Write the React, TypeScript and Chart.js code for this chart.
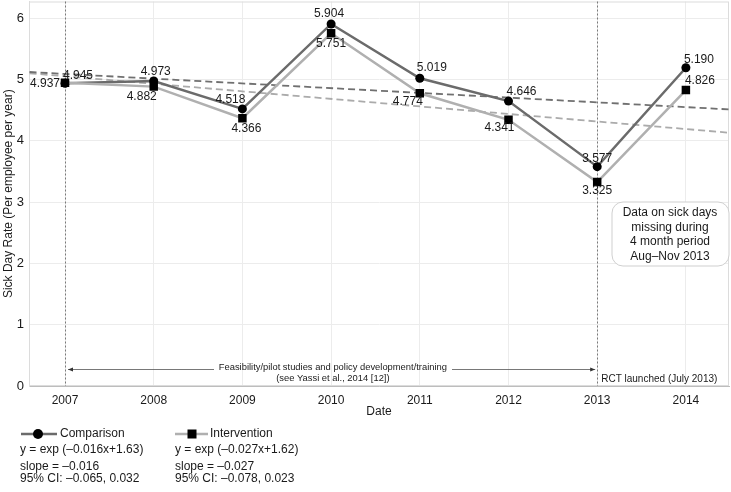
import React, { useEffect, useRef } from "react";
import { Chart, registerables } from "chart.js";

Chart.register(...registerables);

// ---- data ----
const years = [2007, 2008, 2009, 2010, 2011, 2012, 2013, 2014];
const comparison = [4.937, 4.973, 4.518, 5.904, 5.019, 4.646, 3.577, 5.19];
const intervention = [4.945, 4.882, 4.366, 5.751, 4.774, 4.341, 3.325, 4.826];
const yTicks = [0, 1, 2, 3, 4, 5, 6];
const trendX = [2006.6, 2014.49];
const comparisonTrend = [5.12, 4.51];
const interventionTrend = [5.1, 4.13];
const markerYears = [2007, 2013];

// ---- label layout (pixel offsets from each point) ----
const compLabelOffsets = [[-20, 0], [2, -9], [-12, -9], [-2, -10], [12, -11], [13, -9], [0, -8], [13, -8]];
const intLabelOffsets = [[13, -7], [-12, 10], [4, 10], [0, 10], [-12, 8], [-9, 8], [0, 9], [14, -9]];

const FONT = "'Liberation Sans', Arial, Helvetica, sans-serif";
const COMP_COLOR = "#6b6b6b";
const INT_COLOR = "#b0b0b0";
const TEXT = "#1a1a1a";

function arrow(ctx: CanvasRenderingContext2D, x1: number, x2: number, y: number) {
  ctx.beginPath();
  ctx.moveTo(x1, y);
  ctx.lineTo(x2, y);
  ctx.stroke();
  const dir = x2 > x1 ? 1 : -1;
  ctx.beginPath();
  ctx.moveTo(x2, y);
  ctx.lineTo(x2 - dir * 5, y - 2);
  ctx.lineTo(x2 - dir * 5, y + 2);
  ctx.closePath();
  ctx.fill();
}

const overlay = {
  id: "overlay",
  beforeDatasetsDraw(chart: any) {
    const { ctx, chartArea: a, scales } = chart;
    const x = scales.x;
    ctx.save();
    ctx.strokeStyle = "#dcdcdc";
    ctx.lineWidth = 1;
    ctx.strokeRect(a.left + 0.5, a.top + 0.5, a.right - a.left - 1, a.bottom - a.top - 1);
    ctx.strokeStyle = "#7a7a7a";
    ctx.setLineDash([2, 2]);
    markerYears.forEach((v) => {
      const px = Math.round(x.getPixelForValue(v)) + 0.5;
      ctx.beginPath();
      ctx.moveTo(px, a.top);
      ctx.lineTo(px, a.bottom);
      ctx.stroke();
    });
    ctx.restore();
  },
  afterDatasetsDraw(chart: any) {
    const { ctx, chartArea: a, scales } = chart;
    const x = scales.x;
    const y = scales.y;
    ctx.save();

    // value labels
    ctx.fillStyle = TEXT;
    ctx.font = `12px ${FONT}`;
    ctx.textAlign = "center";
    ctx.textBaseline = "middle";
    years.forEach((yr, i) => {
      const px = x.getPixelForValue(yr);
      const py1 = y.getPixelForValue(comparison[i]);
      ctx.fillText(comparison[i].toFixed(3), px + compLabelOffsets[i][0], py1 + compLabelOffsets[i][1]);
      const py2 = y.getPixelForValue(intervention[i]);
      ctx.fillText(intervention[i].toFixed(3), px + intLabelOffsets[i][0], py2 + intLabelOffsets[i][1]);
    });

    // arrows + period annotations
    const x07 = x.getPixelForValue(2007);
    const x13 = x.getPixelForValue(2013);
    const ay = Math.round(y.getPixelForValue(0.27)) + 0.5;
    ctx.strokeStyle = "#555";
    ctx.fillStyle = "#333";
    ctx.lineWidth = 0.8;
    arrow(ctx, 214, x07 + 3, ay);
    arrow(ctx, 452, x13 - 2, ay);

    ctx.fillStyle = TEXT;
    ctx.font = `9.4px ${FONT}`;
    ctx.textAlign = "center";
    const cx = x.getPixelForValue(2010.02);
    ctx.fillText("Feasibility/pilot studies and policy development/training", cx, ay - 2);
    ctx.fillText("(see Yassi et al., 2014 [12])", cx, ay + 9);
    ctx.textAlign = "left";
    ctx.font = `10px ${FONT}`;
    ctx.fillText("RCT launched (July 2013)", x13 + 4, ay + 10);

    // annotation box
    const bx = 612, by = 202, bw = a.right - 612, bh = 64, r = 11;
    ctx.beginPath();
    ctx.moveTo(bx + r, by);
    ctx.lineTo(bx + bw - r, by);
    ctx.arcTo(bx + bw, by, bx + bw, by + r, r);
    ctx.lineTo(bx + bw, by + bh - r);
    ctx.arcTo(bx + bw, by + bh, bx + bw - r, by + bh, r);
    ctx.lineTo(bx + r, by + bh);
    ctx.arcTo(bx, by + bh, bx, by + bh - r, r);
    ctx.lineTo(bx, by + r);
    ctx.arcTo(bx, by, bx + r, by, r);
    ctx.closePath();
    ctx.fillStyle = "#fff";
    ctx.fill();
    ctx.strokeStyle = "#cfcfcf";
    ctx.lineWidth = 1;
    ctx.stroke();
    ctx.fillStyle = TEXT;
    ctx.font = `12px ${FONT}`;
    ctx.textAlign = "center";
    const boxLines = ["Data on sick days", "missing during", "4 month period", "Aug\u2013Nov 2013"];
    boxLines.forEach((t, i) => ctx.fillText(t, 670, 213 + i * 14.4));

    // x-axis title
    ctx.font = `12px ${FONT}`;
    ctx.fillText("Date", (a.left + a.right) / 2, 412);

    // legend
    ctx.textAlign = "left";
    ctx.lineWidth = 2.5;
    ctx.strokeStyle = COMP_COLOR;
    ctx.beginPath();
    ctx.moveTo(21, 434);
    ctx.lineTo(57, 434);
    ctx.stroke();
    ctx.fillStyle = "#000";
    ctx.beginPath();
    ctx.arc(38, 434, 5, 0, Math.PI * 2);
    ctx.fill();
    ctx.strokeStyle = INT_COLOR;
    ctx.beginPath();
    ctx.moveTo(175, 434);
    ctx.lineTo(208, 434);
    ctx.stroke();
    ctx.fillStyle = "#000";
    ctx.fillRect(187.5, 429.5, 9, 9);

    ctx.fillStyle = TEXT;
    ctx.font = `12px ${FONT}`;
    ctx.fillText("Comparison", 60, 434);
    ctx.fillText("Intervention", 210, 434);
    const col1 = ["y = exp (\u20130.016x+1.63)", "slope = \u20130.016", "95% CI: \u20130.065, 0.032"];
    const col2 = ["y = exp (\u20130.027x+1.62)", "slope = \u20130.027", "95% CI: \u20130.078, 0.023"];
    const rows = [450, 467, 479];
    col1.forEach((t, i) => ctx.fillText(t, 20, rows[i]));
    col2.forEach((t, i) => ctx.fillText(t, 175, rows[i]));
    ctx.restore();
  },
};

export default function App() {
  const ref = useRef<HTMLCanvasElement | null>(null);
  useEffect(() => {
    if (!ref.current) return;
    const chart = new Chart(ref.current, {
      type: "line",
      data: {
        datasets: [
          {
            label: "Comparison",
            data: years.map((v, i) => ({ x: v, y: comparison[i] })),
            borderColor: COMP_COLOR,
            backgroundColor: "#000",
            borderWidth: 2.5,
            pointStyle: "circle",
            pointRadius: 4.5,
            pointBorderWidth: 0,
            pointBackgroundColor: "#000",
            order: 1,
          },
          {
            label: "Intervention",
            data: years.map((v, i) => ({ x: v, y: intervention[i] })),
            borderColor: INT_COLOR,
            backgroundColor: "#000",
            borderWidth: 2.5,
            pointStyle: "rect",
            pointRadius: 6,
            pointBorderWidth: 0,
            pointBackgroundColor: "#000",
            order: 0,
          },
          {
            label: "Comparison trend",
            data: trendX.map((v, i) => ({ x: v, y: comparisonTrend[i] })),
            borderColor: "#707070",
            borderWidth: 1.8,
            borderDash: [7, 4],
            pointRadius: 0,
            order: 3,
          },
          {
            label: "Intervention trend",
            data: trendX.map((v, i) => ({ x: v, y: interventionTrend[i] })),
            borderColor: "#ababab",
            borderWidth: 1.8,
            borderDash: [7, 4],
            pointRadius: 0,
            order: 3,
          },
        ],
      },
      options: {
        responsive: false,
        animation: false,
        layout: { autoPadding: false, padding: { top: 1.5, right: 2, left: 0, bottom: 0 } },
        plugins: { legend: { display: false }, tooltip: { enabled: false } },
        scales: {
          x: {
            type: "linear",
            min: 2006.594,
            max: 2014.486,
            afterBuildTicks: (s: any) => {
              s.ticks = years.map((v) => ({ value: v }));
            },
            afterFit: (s: any) => {
              s.height = 106;
              s.paddingLeft = 0;
              s.paddingRight = 0;
            },
            grid: { color: "#ececec", drawTicks: false },
            border: { display: true, color: "#bdbdbd" },
            ticks: {
              padding: 7,
              color: TEXT,
              font: { family: FONT, size: 12 },
              callback: (v: any) => String(v),
            },
          },
          y: {
            min: 0,
            max: 6.27,
            afterBuildTicks: (s: any) => {
              s.ticks = yTicks.map((v) => ({ value: v }));
            },
            afterFit: (s: any) => {
              s.width = 29;
              s.paddingTop = 0;
              s.paddingBottom = 0;
            },
            grid: { color: "#ececec", drawTicks: false },
            border: { display: true, color: "#dcdcdc" },
            ticks: {
              padding: 5,
              color: TEXT,
              font: { family: FONT, size: 13 },
              callback: (v: any) => String(v),
            },
            title: {
              display: true,
              text: "Sick Day Rate (Per employee per year)",
              color: TEXT,
              font: { family: FONT, size: 12 },
              padding: { top: 1, bottom: 0 },
            },
          },
        },
      },
      plugins: [overlay],
    } as any);
    return () => chart.destroy();
  }, []);
  return (
    <div style={{ position: "absolute", left: 0, top: 0, width: 731, height: 492, background: "#fff" }}>
      <canvas ref={ref} width={731} height={492} />
    </div>
  );
}
